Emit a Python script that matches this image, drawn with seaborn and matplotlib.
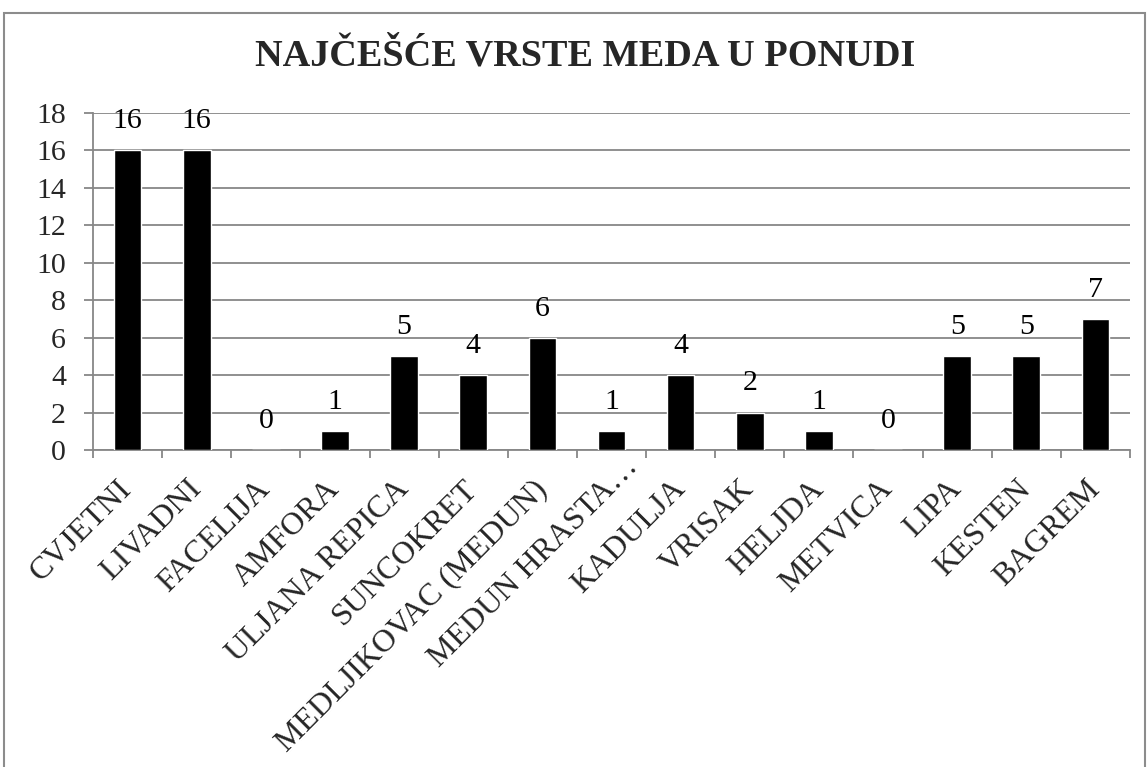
import matplotlib
matplotlib.use("Agg")
import matplotlib.pyplot as plt
from matplotlib.patches import Rectangle
from matplotlib.ticker import FixedLocator
from matplotlib.transforms import ScaledTranslation
import seaborn as sns
import pandas as pd

categories = ["CVJETNI", "LIVADNI", "FACELIJA", "AMFORA", "ULJANA REPICA",
              "SUNCOKRET", "MEDLJIKOVAC (MEDUN)", "MEDUN HRASTA…", "KADULJA",
              "VRISAK", "HELJDA", "METVICA", "LIPA", "KESTEN", "BAGREM"]
values = [16, 16, 0, 1, 5, 4, 6, 1, 4, 2, 1, 0, 5, 5, 7]
yticks = [0, 2, 4, 6, 8, 10, 12, 14, 16, 18]
title = "NAJČEŠĆE VRSTE MEDA U PONUDI"

sns.set_theme(style="white")
plt.rcParams["font.family"] = ["Liberation Serif", "DejaVu Serif"]

W, H, DPI = 1148, 767, 100
fig = plt.figure(figsize=(W / DPI, H / DPI), dpi=DPI)
ax = fig.add_axes([93 / W, 1 - 450 / H, (1130 - 93) / W, (450 - 113) / H])

df = pd.DataFrame({"vrsta": categories, "broj": values})
sns.barplot(data=df, x="vrsta", y="broj", color="black", width=0.4,
            saturation=1, ax=ax, zorder=3)

grid_col = "#878787"
ax.set_xlim(-0.5, len(categories) - 0.5)
ax.set_ylim(0, 18)
ax.set_yticks(yticks)
ax.yaxis.grid(True, color=grid_col, linewidth=1.3, zorder=0)
ax.set_axisbelow(True)
for side in ("top", "right"):
    ax.spines[side].set_visible(False)
for side in ("left", "bottom"):
    ax.spines[side].set_color(grid_col)
    ax.spines[side].set_linewidth(1.3)

ax.tick_params(axis="y", direction="out", length=6.5, width=1.3, color=grid_col,
               labelsize=21.5, pad=13, left=True)
ax.xaxis.set_minor_locator(FixedLocator([i - 0.5 for i in range(len(categories) + 1)]))
ax.tick_params(axis="x", which="minor", direction="out", length=6, width=1.3,
               color=grid_col, bottom=True)
ax.tick_params(axis="x", which="major", length=0, labelsize=23, pad=25)
ax.set_xticks(range(len(categories)))
labels = ax.set_xticklabels(categories, rotation=45, ha="right", va="center",
                            rotation_mode="anchor")
# the truncated label sits a little further along its baseline
trunc = labels[categories.index("MEDUN HRASTA…")]
trunc.set_transform(trunc.get_transform()
                    + ScaledTranslation(16 / 72, 16 / 72, fig.dpi_scale_trans))
ax.set_xlabel("")
ax.set_ylabel("")

for i, v in enumerate(values):
    ax.annotate(str(v), (i, v), xytext=(0, 21), textcoords="offset points",
                ha="center", va="center", fontsize=21.5, color="black")

fig.text(585 / W, 1 - 56 / H, title, ha="center", va="center", fontsize=27.5,
         fontweight="bold")

fig.patches.append(Rectangle((4 / W, -0.05), (1145 - 4) / W, 1.05 - 13 / H,
                             transform=fig.transFigure, fill=False,
                             edgecolor="#8c8c8c", linewidth=1.5))

fig.savefig("out.png", dpi=DPI)
